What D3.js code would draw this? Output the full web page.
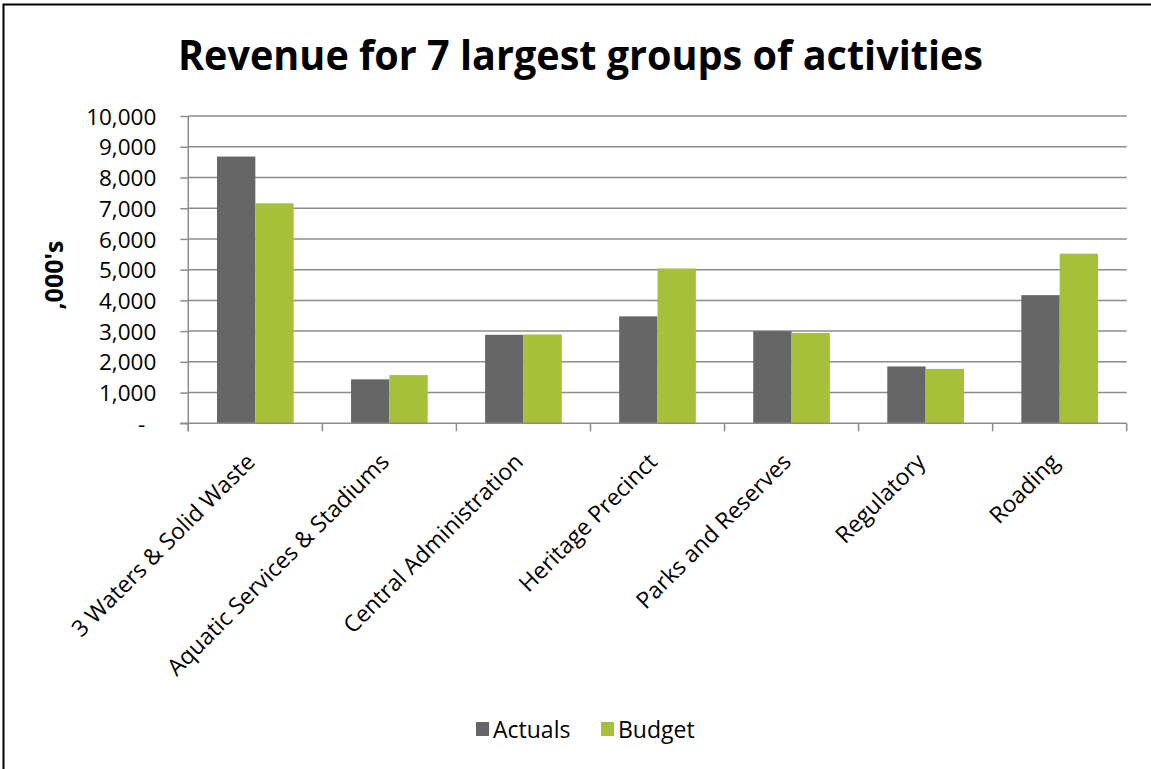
<!DOCTYPE html>
<html>
<head>
<meta charset="utf-8">
<script src="https://cdn.jsdelivr.net/npm/d3@7"></script>
<style>
  html, body { margin: 0; padding: 0; background: #fff; overflow: hidden; }
  svg { display: block; font-family: "Open Sans", "Noto Sans", sans-serif; }
</style>
</head>
<body>
<svg id="chart" width="1151" height="769"></svg>
<script>
// Revenue by group of activities, in thousands
const categories = [
  "3 Waters & Solid Waste",
  "Aquatic Services & Stadiums",
  "Central Administration",
  "Heritage Precinct",
  "Parks and Reserves",
  "Regulatory",
  "Roading"
];
const seriesNames = ["Actuals", "Budget"];
const actuals = [8680, 1430, 2880, 3480, 3000, 1850, 4170];
const budget  = [7160, 1570, 2890, 5040, 2940, 1770, 5520];
const yTicks = [0, 1000, 2000, 3000, 4000, 5000, 6000, 7000, 8000, 9000, 10000];
const yTickLabels = ["-", "1,000", "2,000", "3,000", "4,000", "5,000", "6,000", "7,000", "8,000", "9,000", "10,000"];
const titleText = "Revenue for 7 largest groups of activities";
const yAxisTitle = ",000's";

const colors = { Actuals: "#666666", Budget: "#A6C03A" };
const gridColor = "#8c8c8c";

const svg = d3.select("#chart");

// outer frame of the chart
svg.append("rect")
  .attr("x", 3.5).attr("y", 4.5)
  .attr("width", 1200).attr("height", 800)
  .attr("fill", "#fff").attr("stroke", "#000").attr("stroke-width", 2);

const plot = { left: 188.3, right: 1126.7, top: 116, bottom: 423.3 };

const x0 = d3.scaleBand().domain(categories).range([plot.left, plot.right]).padding(0);
const bw = x0.bandwidth();
const gap = bw * 0.214;
const x1 = d3.scaleBand().domain(seriesNames).range([gap, bw - gap]).padding(0);
const y = d3.scaleLinear().domain([0, 10000]).range([plot.bottom, plot.top]);

// horizontal gridlines
svg.append("g")
  .selectAll("line")
  .data(yTicks.filter(d => d > 0))
  .join("line")
  .attr("x1", plot.left).attr("x2", plot.right)
  .attr("y1", d => y(d)).attr("y2", d => y(d))
  .attr("stroke", gridColor).attr("stroke-width", 1.5);

// bars
const rows = categories.map((c, i) => ({ cat: c, values: [
  { key: "Actuals", value: actuals[i] },
  { key: "Budget", value: budget[i] }
]}));

svg.append("g")
  .selectAll("g")
  .data(rows)
  .join("g")
  .attr("transform", d => `translate(${x0(d.cat)},0)`)
  .selectAll("rect")
  .data(d => d.values)
  .join("rect")
  .attr("x", d => x1(d.key))
  .attr("width", x1.bandwidth())
  .attr("y", d => y(d.value))
  .attr("height", d => y(0) - y(d.value))
  .attr("fill", d => colors[d.key]);

// y axis
const yAxis = d3.axisLeft(y)
  .tickValues(yTicks)
  .tickSize(8)
  .tickPadding(24)
  .tickFormat((d, i) => yTickLabels[i]);

const gy = svg.append("g")
  .attr("transform", `translate(${plot.left},0)`)
  .call(yAxis);
gy.select(".domain").attr("stroke", gridColor).attr("stroke-width", 1.5)
  .attr("d", `M0,${plot.top}V${plot.bottom + 8}`);
gy.selectAll(".tick line").attr("stroke", gridColor).attr("stroke-width", 1.5);
gy.selectAll(".tick text")
  .attr("fill", "#000")
  .style("font-size", "22.5px")
  .style("font-family", "'Open Sans', sans-serif")
  .attr("dy", "0.36em")
  .attr("dx", d => d === 0 ? -11 : 0);

// x axis with ticks on category boundaries
const gx = svg.append("g").attr("transform", `translate(0,${plot.bottom})`);
gx.append("line")
  .attr("x1", plot.left - 8).attr("x2", plot.right)
  .attr("stroke", gridColor).attr("stroke-width", 1.5);
const boundaries = categories.map(c => x0(c)).concat([plot.right]);
gx.selectAll("line.tk")
  .data(boundaries)
  .join("line")
  .attr("class", "tk")
  .attr("x1", d => d).attr("x2", d => d)
  .attr("y1", 0).attr("y2", 8)
  .attr("stroke", gridColor).attr("stroke-width", 1.5);

gx.selectAll("text")
  .data(categories)
  .join("text")
  .attr("transform", d => `translate(${x0(d) + bw / 2 + 1},${40}) rotate(-45)`)
  .attr("text-anchor", "end")
  .style("font-size", "23px")
  .attr("fill", "#000")
  .text(d => d);

// y axis title
svg.append("text")
  .attr("transform", "translate(63,275) rotate(-90)")
  .attr("text-anchor", "middle")
  .style("font-size", "25px")
  .style("font-weight", "bold")
  .attr("fill", "#000")
  .text(yAxisTitle);

// chart title
svg.append("text")
  .attr("x", 580.5).attr("y", 70)
  .attr("text-anchor", "middle")
  .attr("textLength", 805)
  .attr("lengthAdjust", "spacingAndGlyphs")
  .style("font-size", "41px")
  .style("font-weight", "bold")
  .attr("fill", "#000")
  .text(titleText);

// legend
const legend = svg.append("g").attr("transform", "translate(476,738)");
const legendItems = [
  { key: "Actuals", x: 0 },
  { key: "Budget", x: 125 }
];
const li = legend.selectAll("g").data(legendItems).join("g")
  .attr("transform", d => `translate(${d.x},0)`);
li.append("rect")
  .attr("x", 0).attr("y", -16).attr("width", 13).attr("height", 14)
  .attr("fill", d => colors[d.key]);
li.append("text")
  .attr("x", 17).attr("y", 0)
  .style("font-size", "23px")
  .attr("fill", "#000")
  .text(d => d.key);
</script>
</body>
</html>
